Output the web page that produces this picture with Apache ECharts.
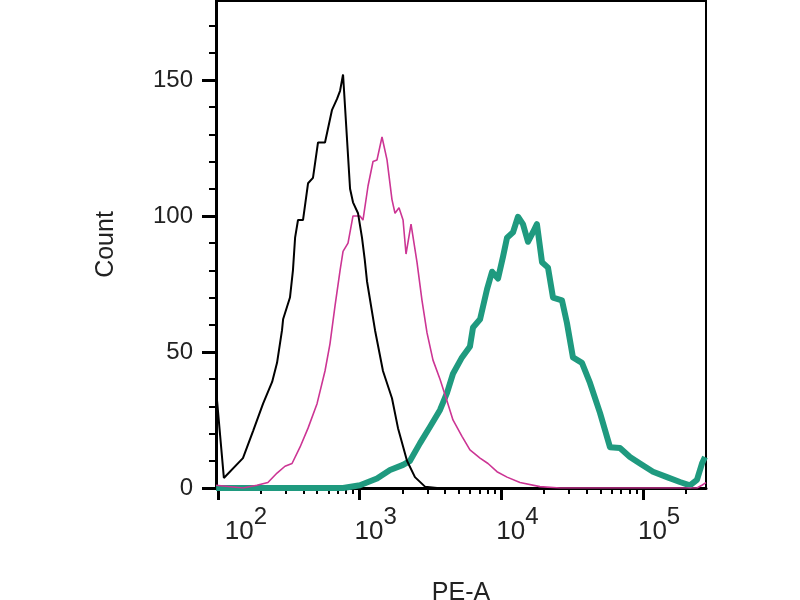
<!DOCTYPE html>
<html>
<head>
<meta charset="UTF-8">
<title>PE-A histogram</title>
<script src="https://cdn.jsdelivr.net/npm/echarts@6/dist/echarts.min.js"></script>
<style>
  html, body { margin: 0; padding: 0; background: #fff; }
</style>
</head>
<body>
<div id="main" style="width: 800px;height:600px;"></div>
<script type="text/javascript">
    // PE-A intensity (log axis) and counts
    var blackX = [97, 110, 150, 177, 208, 241, 261, 283, 288, 322, 338, 350, 367, 398, 432, 468, 508, 569, 638, 692, 727, 763, 855, 897, 973, 1038, 1085, 1126, 1283, 1460, 1690, 1864, 2157, 2455, 2890, 3514, 4200];
    var blackY = [36, 3.7, 11, 21, 31, 39, 46, 58, 62, 70, 80, 92, 98.5, 98.5, 112, 114, 127, 127, 139, 143, 146, 152, 110, 105, 101, 92, 84, 76, 58, 43, 33, 22, 10, 4, 0.5, 0, 0];

    var pinkX = [97, 150, 188, 225, 261, 297, 333, 379, 432, 500, 569, 617, 670, 727, 763, 827, 897, 1004, 1055, 1145, 1242, 1325, 1437, 1559, 1690, 1775, 1894, 2023, 2123, 2303, 2537, 2752, 2987, 3291, 3689, 4133, 4553, 5272, 6000, 7069, 8043, 9310, 10962, 13530, 18710, 25920, 240000, 260000, 278000];
    var pinkY = [1, 0, 1, 2, 5.5, 8, 9, 15, 22, 31, 43, 53, 67, 80, 87, 90, 100, 100, 98.5, 111, 120, 120.6, 129, 120.6, 106, 101, 103, 98.5, 86, 97, 83, 69, 57, 47, 40, 32, 25, 19, 14, 11, 9, 6, 4, 2, 0.5, 0, 0, 1, 2];

    var tealX = [97, 763, 1004, 1325, 1637, 2023, 2266, 2666, 3136, 3689, 4133, 4553, 5272, 6000, 6305, 7069, 7915, 8592, 9468, 10266, 10962, 12087, 13098, 14202, 15400, 16700, 17820, 19350, 21330, 23130, 26770, 29030, 32000, 37050, 42200, 49650, 58400, 68700, 80800, 95100, 117500, 147500, 182000, 214000, 240000, 260400, 273500];
    var tealY = [0, 0, 1, 3.5, 6.6, 8.5, 10, 16.5, 22.5, 28.7, 35, 42, 48, 52, 59, 62, 73, 79.5, 77, 85, 92, 94, 99.7, 97, 90.5, 94, 97, 83, 81, 70, 69, 60.6, 48, 46, 38.6, 27.6, 15, 14.7, 11.4, 9, 6, 4, 2.2, 1, 3, 9, 11.4];

    var xMajor = [100, 1000, 10000, 100000];
    var xMinor = [200, 300, 400, 500, 600, 700, 800, 900,
                  2000, 3000, 4000, 5000, 6000, 7000, 8000, 9000,
                  20000, 30000, 40000, 50000, 60000, 70000, 80000, 90000,
                  200000];
    var yMajor = [0, 50, 100, 150];
    var yMinor = [10, 20, 30, 40, 60, 70, 80, 90, 110, 120, 130, 140, 160, 170];

    function pairs(xs, ys) {
        var out = [];
        for (var i = 0; i < xs.length; i++) out.push([xs[i], ys[i]]);
        return out;
    }

    var font = '"Liberation Sans", Arial, sans-serif';
    var myChart = echarts.init(document.getElementById('main'));

    var option = {
        animation: false,
        backgroundColor: '#fff',
        grid: {
            left: 216, right: 94, top: 1, bottom: 112,
            outerBoundsMode: 'none',
            show: true, borderColor: '#000', borderWidth: 2
        },
        xAxis: [{
            type: 'log', min: 96.8, max: 278000,
            name: 'PE-A', nameLocation: 'middle', nameGap: 93,
            nameTextStyle: { fontFamily: font, fontSize: 25, color: '#222' },
            axisLine: { lineStyle: { color: '#000', width: 3 } },
            axisTick: { customValues: xMajor, length: 12, lineStyle: { color: '#000', width: 3 } },
            axisLabel: {
                customValues: xMajor, margin: 17, color: '#222',
                formatter: function (v) {
                    var e = Math.round(Math.log10(v));
                    return (e === 2 ? '{a2|10}' : '{a|10}') + '{b|' + e + '}';
                },
                rich: {
                    a: { fontFamily: font, fontSize: 26, color: '#222', lineHeight: 40, verticalAlign: 'bottom', padding: [0, 0, 0, 32] },
                    a2: { fontFamily: font, fontSize: 26, color: '#222', lineHeight: 40, verticalAlign: 'bottom', padding: [0, 0, 0, 56] },
                    b: { fontFamily: font, fontSize: 24, color: '#222', lineHeight: 24, verticalAlign: 'top' }
                }
            },
            splitLine: { show: false }
        }, {
            type: 'log', min: 96.8, max: 278000, position: 'bottom',
            axisLine: { show: false },
            axisTick: { customValues: xMinor, length: 6, lineStyle: { color: '#000', width: 2 } },
            axisLabel: { show: false },
            splitLine: { show: false }
        }],
        yAxis: [{
            type: 'value', min: 0, max: 179,
            name: 'Count', nameLocation: 'middle', nameGap: 97,
            nameTextStyle: { fontFamily: font, fontSize: 25, color: '#222' },
            axisLine: { show: true, lineStyle: { color: '#000', width: 3 } },
            axisTick: { customValues: yMajor, length: 14, lineStyle: { color: '#000', width: 3 } },
            axisLabel: { customValues: yMajor, margin: 23, fontFamily: font, fontSize: 24, color: '#222' },
            splitLine: { show: false }
        }, {
            type: 'value', min: 0, max: 179, position: 'left',
            axisLine: { show: false },
            axisTick: { show: true, customValues: yMinor, length: 7, lineStyle: { color: '#000', width: 2 } },
            axisLabel: { show: false },
            splitLine: { show: false }
        }],
        series: [{
            name: 'teal', type: 'line', showSymbol: false, silent: true,
            data: pairs(tealX, tealY),
            lineStyle: { color: '#1f9a7f', width: 6, join: 'round' }
        }, {
            name: 'magenta', type: 'line', showSymbol: false, silent: true,
            data: pairs(pinkX, pinkY),
            lineStyle: { color: '#cc3594', width: 1.6 }
        }, {
            name: 'black', type: 'line', showSymbol: false, silent: true,
            data: pairs(blackX, blackY),
            lineStyle: { color: '#000', width: 2 }
        }]
    };

    myChart.setOption(option);
</script>
</body>
</html>
